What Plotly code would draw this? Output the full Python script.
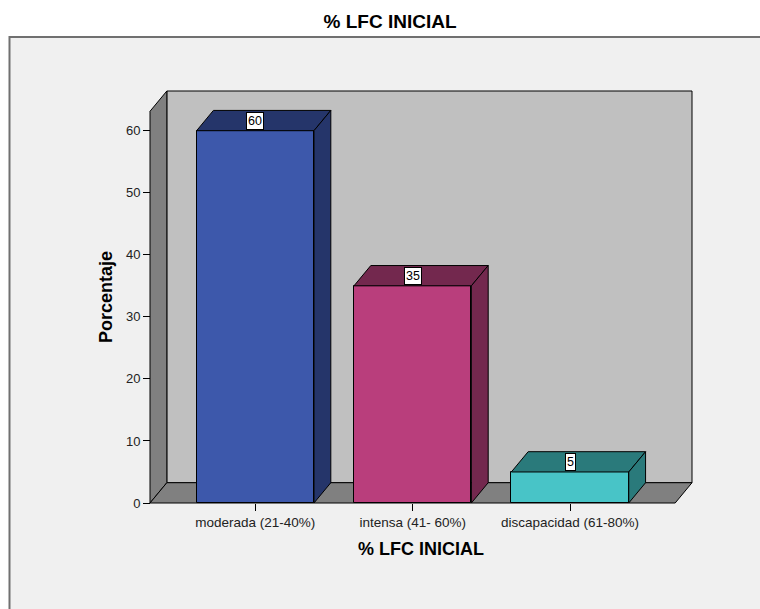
import plotly.graph_objects as go

# ---- data ----
categories = ["moderada (21-40%)", "intensa (41- 60%)", "discapacidad (61-80%)"]
percentages = [60, 35, 5]
y_tick_values = [0, 10, 20, 30, 40, 50, 60]
chart_title = "% LFC INICIAL"
x_title = "% LFC INICIAL"
y_title = "Porcentaje"

# ---- styles ----
front_colors = ["#3d58ab", "#b93e7c", "#48c4c7"]
side_colors = ["#25356a", "#73284e", "#2a7a7b"]
WALL_BACK = "#c0c0c0"
WALL_SIDE = "#808080"
FRAME_BG = "#f0f0f0"

BAR_W = 0.746          # bar width in category units
DX = 0.107             # depth offset along x (category units)
DY = 3.27              # depth offset along y (value units)
X_LEFT = -0.669        # front-left edge of floor
X_RIGHT_BACK = 2.775   # back-right edge of back wall
Y_TOP_BACK = 66.4      # top of back wall

W, H = 760, 609
ML, MR, MT, MB = 148, 66, 89, 104
plot_w = W - ML - MR
plot_h = H - MT - MB
px_per_x = 157.4
px_per_y = 6.205
pad_x = 2 / px_per_x
pad_y = 2 / px_per_y
xr = [X_LEFT - pad_x, X_RIGHT_BACK + pad_x]
yr = [-pad_y, Y_TOP_BACK + pad_y]

n = len(categories)
xs = list(range(n))

fig = go.Figure()

# front faces of bars
fig.add_trace(go.Bar(
    x=xs, y=percentages, width=BAR_W,
    marker=dict(color=front_colors, line=dict(color="black", width=1)),
    hoverinfo="skip", showlegend=False,
))

# top and side faces
for i, v in enumerate(percentages):
    l, r = i - BAR_W / 2, i + BAR_W / 2
    fig.add_trace(go.Scatter(
        x=[l, r, r + DX, l + DX, l], y=[v, v, v + DY, v + DY, v],
        fill="toself", fillcolor=side_colors[i], mode="lines",
        line=dict(color="black", width=1), hoverinfo="skip", showlegend=False,
    ))
    fig.add_trace(go.Scatter(
        x=[r, r + DX, r + DX, r, r], y=[0, DY, v + DY, v, 0],
        fill="toself", fillcolor=side_colors[i], mode="lines",
        line=dict(color="black", width=1), hoverinfo="skip", showlegend=False,
    ))
    fig.add_annotation(
        x=i, y=v + DY / 2, xref="x", yref="y", text=str(v), showarrow=False,
        bgcolor="white", bordercolor="black", borderwidth=1, borderpad=1,
        font=dict(family="Liberation Sans, Arial", size=12.5, color="black"),
    )

shapes = []
# outer frame
shapes.append(dict(
    type="rect", xref="paper", yref="paper",
    x0=(9.5 - ML) / plot_w, x1=1.3, y0=-0.4, y1=(H - MB - 37) / plot_h,
    fillcolor=FRAME_BG, line=dict(color="#707070", width=2), layer="below",
))
# back wall
shapes.append(dict(
    type="rect", xref="x", yref="y",
    x0=X_LEFT + DX, x1=X_RIGHT_BACK, y0=DY, y1=Y_TOP_BACK,
    fillcolor=WALL_BACK, line=dict(color="black", width=1), layer="below",
))
# side wall
shapes.append(dict(
    type="path", xref="x", yref="y",
    path=f"M{X_LEFT},0 L{X_LEFT + DX},{DY} L{X_LEFT + DX},{Y_TOP_BACK} L{X_LEFT},{Y_TOP_BACK - DY} Z",
    fillcolor=WALL_SIDE, line=dict(color="black", width=1), layer="below",
))
# floor
shapes.append(dict(
    type="path", xref="x", yref="y",
    path=f"M{X_LEFT},0 L{X_RIGHT_BACK - DX},0 L{X_RIGHT_BACK},{DY} L{X_LEFT + DX},{DY} Z",
    fillcolor=WALL_SIDE, line=dict(color="black", width=1), layer="below",
))

fig.update_layout(
    width=W, height=H, autosize=False,
    margin=dict(l=ML, r=MR, t=MT, b=MB),
    paper_bgcolor="white", plot_bgcolor="rgba(0,0,0,0)",
    shapes=shapes,
    title=dict(text=f"<b>{chart_title}</b>", x=390 / W, xanchor="center",
               y=1 - 21 / H, yanchor="middle", yref="container",
               font=dict(family="Liberation Sans, Arial", size=19, color="black")),
    font=dict(family="Liberation Sans, Arial", color="#222"),
    xaxis=dict(
        range=xr, tickvals=xs, ticktext=categories, showgrid=False, zeroline=False,
        showline=False, ticks="outside", ticklen=7, tickcolor="black", tickwidth=1,
        tickfont=dict(size=13.5, color="#222"), anchor="free", position=2 / plot_h,
        title=dict(text=f"<b>{x_title}</b>", font=dict(size=18, color="black"), standoff=13),
        fixedrange=True,
    ),
    yaxis=dict(
        range=yr, tickvals=y_tick_values, showgrid=False, zeroline=False,
        showline=False, ticks="outside", ticklen=7, tickcolor="black", tickwidth=1,
        tickfont=dict(size=13, color="#222"), anchor="free", position=2 / plot_w,
        title=dict(text=f"<b>{y_title}</b>", font=dict(size=18, color="black"), standoff=7),
        fixedrange=True,
    ),
    bargap=0,
)

fig.write_html("out.html")
